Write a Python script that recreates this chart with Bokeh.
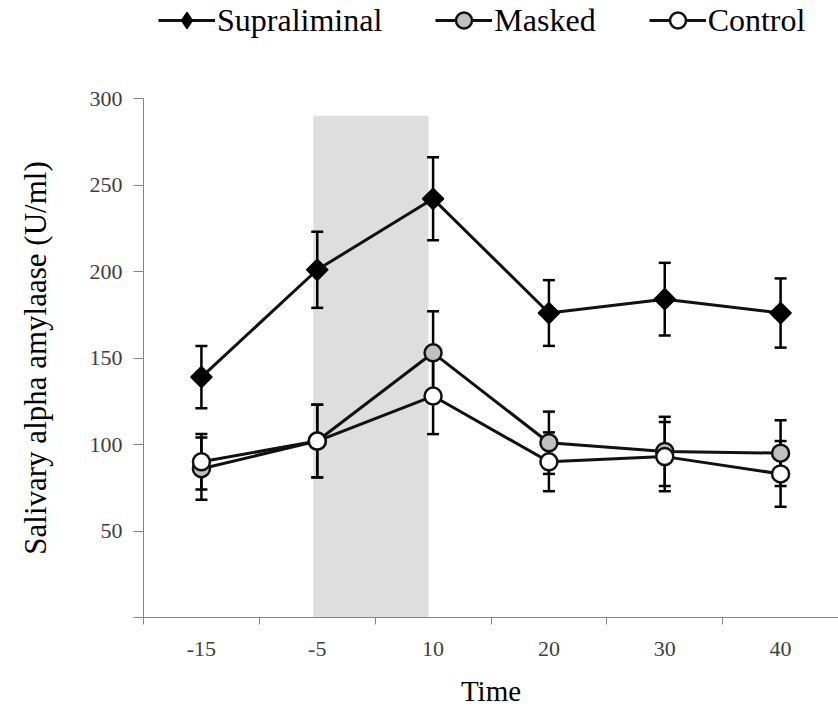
import math
from bokeh.plotting import figure
from bokeh.layouts import column
from bokeh.models import (ColumnDataSource, Whisker, TeeHead, BoxAnnotation,
                          FixedTicker, Legend, LegendItem, Range1d)
from bokeh.embed import file_html
from bokeh.resources import INLINE

# ---- data ----
times = ["-15", "-5", "10", "20", "30", "40"]
supra = [139, 201, 242, 176, 184, 176]
supra_err = [18, 22, 24, 19, 21, 20]
masked = [86, 102, 153, 101, 96, 95]
masked_err = [18, 21, 24, 18, 20, 19]
control = [90, 102, 128, 90, 93, 83]
control_err = [16, 21, 22, 17, 20, 19]
y_ticks = [0, 50, 100, 150, 200, 250, 300]
shade_from, shade_to, shade_top = "-5", "10", 290

xs = list(range(len(times)))
FONT = "Liberation Serif"
AXIS_GRAY = "#868686"
LEG_H = 60

series = [
    ("Supraliminal", supra, supra_err, "black", "square"),
    ("Masked", masked, masked_err, "#c0c0c0", "circle"),
    ("Control", control, control_err, "white", "circle"),
]


def add_marks(fig, src, fill, marker, legend_strip=False):
    ln = fig.line("x", "y", source=src, line_color="#111111", line_width=3)
    if marker == "square":
        if legend_strip:
            sc = fig.scatter("x", "y", source=src, marker="diamond", size=15,
                             fill_color=fill, line_color="black", line_width=1.5)
        else:
            sc = fig.scatter("x", "y", source=src, marker="square", angle=math.pi / 4,
                             size=15, fill_color=fill, line_color="black", line_width=1.5)
    else:
        sc = fig.scatter("x", "y", source=src, marker="circle", size=17,
                         fill_color=fill, line_color="#111111", line_width=2.5)
    return ln, sc


# ---- main plot ----
p = figure(width=838, height=709 - LEG_H, output_backend="svg", toolbar_location=None,
           x_range=Range1d(-0.5, len(times) - 0.5), y_range=Range1d(0, 300),
           min_border_left=143, min_border_right=0, min_border_top=98 - LEG_H,
           min_border_bottom=92)
p.outline_line_color = None
p.grid.visible = False

p.add_layout(BoxAnnotation(left=times.index(shade_from) - 0.035,
                           right=times.index(shade_to) - 0.04,
                           bottom=0, top=shade_top,
                           fill_color="#dedede", fill_alpha=1.0,
                           line_color=None, level="image"))

for name, vals, errs, fill, marker in series:
    src = ColumnDataSource(dict(
        x=xs,
        upper=[v + e for v, e in zip(vals, errs)],
        lower=[v - e for v, e in zip(vals, errs)]))
    p.add_layout(Whisker(base="x", upper="upper", lower="lower", source=src,
                         line_color="black", line_width=2.5,
                         upper_head=TeeHead(size=12, line_width=2.5, line_color="black"),
                         lower_head=TeeHead(size=12, line_width=2.5, line_color="black")))

for name, vals, errs, fill, marker in series:
    add_marks(p, ColumnDataSource(dict(x=xs, y=vals)), fill, marker)

# y axis
ya = p.yaxis[0]
ya.ticker = FixedTicker(ticks=y_ticks, minor_ticks=[])
ya.major_label_overrides = {0: ""}
ya.axis_line_color = AXIS_GRAY
ya.major_tick_line_color = AXIS_GRAY
ya.major_tick_out = 10
ya.major_tick_in = 0
ya.major_label_standoff = 11
ya.major_label_text_font = FONT
ya.major_label_text_font_size = "22px"
ya.major_label_text_color = "#404040"
ya.axis_label = "Salivary alpha amylaase (U/ml)"
ya.axis_label_text_font = FONT
ya.axis_label_text_font_style = "normal"
ya.axis_label_text_font_size = "31px"
ya.axis_label_text_color = "black"
ya.axis_label_standoff = 34

# x axis
xa = p.xaxis[0]
xa.ticker = FixedTicker(ticks=xs, minor_ticks=[i - 0.5 for i in range(len(times) + 1)])
xa.major_label_overrides = {i: t for i, t in enumerate(times)}
xa.axis_line_color = AXIS_GRAY
xa.major_tick_out = 0
xa.major_tick_in = 0
xa.major_tick_line_color = None
xa.minor_tick_out = 7
xa.minor_tick_in = 0
xa.minor_tick_line_color = AXIS_GRAY
xa.major_label_standoff = 17
xa.major_label_text_font = FONT
xa.major_label_text_font_size = "22px"
xa.major_label_text_color = "#404040"
xa.axis_label = "Time"
xa.axis_label_text_font = FONT
xa.axis_label_text_font_style = "normal"
xa.axis_label_text_font_size = "29px"
xa.axis_label_text_color = "black"
xa.axis_label_standoff = 16

# ---- legend strip (its renderers sit outside its visible range) ----
lg = figure(width=838, height=LEG_H, output_backend="svg", toolbar_location=None,
            x_range=Range1d(0, 1), y_range=Range1d(0, 1),
            x_axis_type=None, y_axis_type=None,
            min_border_left=0, min_border_right=0, min_border_top=0, min_border_bottom=0)
lg.outline_line_color = None
lg.grid.visible = False
items = []
for name, vals, errs, fill, marker in series:
    ln, sc = add_marks(lg, ColumnDataSource(dict(x=[-5, -4], y=[-5, -5])), fill, marker,
                       legend_strip=True)
    items.append(LegendItem(label=name, renderers=[ln, sc]))
legend = Legend(items=items, orientation="horizontal", location=(15, 20),
                border_line_color=None, background_fill_alpha=0,
                padding=0, margin=0, spacing=53, glyph_width=57,
                glyph_height=40, label_standoff=2, label_height=40,
                label_text_font="Times New Roman", label_text_font_size="32px",
                label_text_font_style="normal", label_text_color="black")
lg.add_layout(legend, "center")

open("out.html", "w").write(file_html(column(lg, p, spacing=0), INLINE))
